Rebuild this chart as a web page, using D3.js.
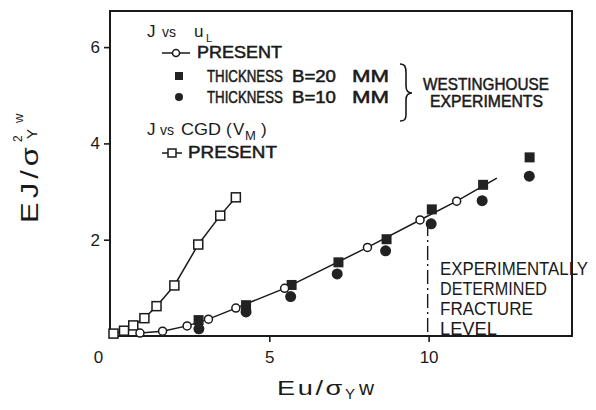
<!DOCTYPE html>
<html>
<head>
<meta charset="utf-8">
<script src="https://cdn.jsdelivr.net/npm/d3@7"></script>
<style>
  body { margin: 0; background: #fff; }
  svg { display: block; }
  text { font-family: "Liberation Sans", Arial, sans-serif; fill: #1a1a1a; }
</style>
</head>
<body>
<div id="chart"></div>
<script>
// J vs CGD (V_M), present (open squares)
const cgdX = [0.11, 0.44, 0.73, 1.08, 1.46, 2.02, 2.77, 3.46, 3.95];
const cgdY = [0.05, 0.11, 0.22, 0.37, 0.62, 1.05, 1.90, 2.50, 2.88];

// J vs u_L, present (open circles on a line)
const presentX = [0.94, 1.65, 2.42, 3.09, 3.95, 5.48, 8.08, 9.73, 10.88];
const presentY = [0.06, 0.10, 0.21, 0.35, 0.58, 0.99, 1.84, 2.41, 2.80];
const presentLineEnd = [12.14, 3.28];

// Westinghouse experiments
const b20X = [2.78, 4.27, 5.70, 7.17, 8.68, 10.10, 11.71, 13.17];
const b20Y = [0.33, 0.64, 1.06, 1.53, 2.01, 2.63, 3.14, 3.71];
const b10X = [2.79, 4.27, 5.67, 7.13, 8.65, 10.08, 11.68, 13.16];
const b10Y = [0.15, 0.50, 0.82, 1.29, 1.77, 2.33, 2.81, 3.32];

// experimentally determined fracture level
const fractureX = 9.97;
const fractureTop = 2.37;

const xTicks = [0, 5, 10];
const yTicks = [2, 4, 6];
const xMax = 14.5, yMax = 6.75;

const ink = "#1a1a1a";

const svg = d3.select("#chart").append("svg")
  .attr("width", 596)
  .attr("height", 410);

const x = d3.scaleLinear().domain([0, xMax]).range([110, 572]);
const y = d3.scaleLinear().domain([0, yMax]).range([336, 11]);

// squeeze/stretch a text horizontally so it spans w pixels, glyph heights unchanged
function fit(t, w) {
  const x0 = +t.attr("x"), y0 = +t.attr("y");
  const k = w / t.node().getComputedTextLength();
  t.attr("x", 0).attr("y", 0)
    .attr("transform", `translate(${x0},${y0}) scale(${k},1)`);
  return t;
}

// frame
svg.append("rect")
  .attr("x", x(0)).attr("y", y(yMax))
  .attr("width", x(xMax) - x(0)).attr("height", y(0) - y(yMax))
  .attr("fill", "none").attr("stroke", ink).attr("stroke-width", 2);

const yAxis = svg.append("g")
  .attr("transform", `translate(${x(0)},0)`)
  .call(d3.axisLeft(y).tickValues(yTicks).tickFormat(d3.format("d"))
    .tickSize(6).tickSizeOuter(0).tickPadding(4));
yAxis.select(".domain").remove();

const xAxis = svg.append("g")
  .attr("transform", `translate(0,${y(0)})`)
  .call(d3.axisBottom(x).tickValues(xTicks).tickFormat(d3.format("d"))
    .tickSize(6).tickSizeOuter(0).tickPadding(9));
xAxis.select(".domain").remove();
xAxis.selectAll(".tick").filter(d => d === 0).select("line").remove();
xAxis.selectAll(".tick").filter(d => d === 0).select("text").attr("x", -12);

svg.selectAll(".tick line").attr("stroke", ink).attr("stroke-width", 1.6);
svg.selectAll(".tick text")
  .attr("fill", ink)
  .style("font-size", "17px")
  .style("font-family", "'Liberation Sans', Arial, sans-serif");

// axis titles
const yTitle = svg.append("g").attr("transform", "translate(38,223) rotate(-90)");
fit(yTitle.append("text").attr("x", 0).attr("y", 0)
  .style("font-size", "23px").style("letter-spacing", "3px").text("EJ/σ"), 80);
yTitle.append("text").attr("x", 81).attr("y", -16).style("font-size", "12px").text("2");
yTitle.append("text").attr("x", 84).attr("y", -1).style("font-size", "15px").text("Y");
yTitle.append("text").attr("x", 100).attr("y", -15).style("font-size", "13px").text("w");

const xTitle = svg.append("g");
fit(xTitle.append("text").attr("x", 277).attr("y", 395)
  .style("font-size", "21px").style("letter-spacing", "2px").text("Eu/σ"), 68);
xTitle.append("text").attr("x", 345).attr("y", 399).style("font-size", "15px").text("Y");
fit(xTitle.append("text").attr("x", 359).attr("y", 395)
  .style("font-size", "20px").text("w"), 15);

// fracture level line
svg.append("line")
  .attr("x1", x(fractureX)).attr("x2", x(fractureX))
  .attr("y1", y(fractureTop)).attr("y2", y(0))
  .attr("stroke", ink).attr("stroke-width", 1.4)
  .attr("stroke-dasharray", "14,4,2,4");

const noteLines = ["EXPERIMENTALLY", "DETERMINED", "FRACTURE", "LEVEL"];
const noteWidths = [148, 107, 93, 57];
noteLines.forEach((s, i) => {
  fit(svg.append("text").attr("x", 440).attr("y", 275 + i * 20)
    .style("font-size", "19px").text(s), noteWidths[i]);
});

// lines
const line = d3.line().x(d => x(d[0])).y(d => y(d[1]));

svg.append("path")
  .datum(cgdX.map((v, i) => [v, cgdY[i]]))
  .attr("d", line)
  .attr("fill", "none").attr("stroke", ink).attr("stroke-width", 1.5);

svg.append("path")
  .datum(presentX.map((v, i) => [v, presentY[i]]).concat([presentLineEnd]))
  .attr("d", line)
  .attr("fill", "none").attr("stroke", ink).attr("stroke-width", 1.5);

// markers
svg.append("g").selectAll("rect")
  .data(b20X.map((v, i) => [v, b20Y[i]]))
  .join("rect")
  .attr("x", d => x(d[0]) - 5).attr("y", d => y(d[1]) - 5)
  .attr("width", 10).attr("height", 10)
  .attr("fill", "#222");

svg.append("g").selectAll("circle")
  .data(b10X.map((v, i) => [v, b10Y[i]]))
  .join("circle")
  .attr("cx", d => x(d[0])).attr("cy", d => y(d[1]))
  .attr("r", 5.5)
  .attr("fill", "#222");

svg.append("g").selectAll("rect")
  .data(cgdX.map((v, i) => [v, cgdY[i]]))
  .join("rect")
  .attr("x", d => x(d[0]) - 4.5).attr("y", d => y(d[1]) - 4.5)
  .attr("width", 9).attr("height", 9)
  .attr("fill", "#fff").attr("stroke", ink).attr("stroke-width", 1.5);

svg.append("g").selectAll("circle")
  .data(presentX.map((v, i) => [v, presentY[i]]))
  .join("circle")
  .attr("cx", d => x(d[0])).attr("cy", d => y(d[1]))
  .attr("r", 4)
  .attr("fill", "#fff").attr("stroke", ink).attr("stroke-width", 1.5);

// legend
const legend = svg.append("g");

function lText(xPos, yPos, str, size, len) {
  const t = legend.append("text").attr("x", xPos).attr("y", yPos)
    .style("font-size", size + "px").text(str);
  if (len) fit(t, len);
  return t;
}
function heavy(t) {
  return t.attr("stroke", ink).attr("stroke-width", 0.5);
}

// J vs u_L
lText(147, 37, "J", 17);
lText(162, 37, "vs", 15, 14);
lText(194, 37, "u", 17);
lText(206, 42, "L", 11);

// J vs CGD (V_M)
lText(147, 135, "J", 17);
lText(160, 135, "vs", 15, 14);
lText(181, 135, "CGD", 17, 40);
lText(226, 135, "(", 17);
lText(233, 135, "V", 17);
lText(245, 140, "M", 13);
lText(261, 135, ")", 17);

// -o- present
legend.append("line").attr("x1", 162).attr("x2", 190).attr("y1", 53).attr("y2", 53)
  .attr("stroke", ink).attr("stroke-width", 1.5);
legend.append("circle").attr("cx", 176).attr("cy", 53).attr("r", 3.5)
  .attr("fill", "#fff").attr("stroke", ink).attr("stroke-width", 1.5);
heavy(lText(197, 58, "PRESENT", 16, 85));

legend.append("rect").attr("x", 175).attr("y", 72).attr("width", 8).attr("height", 8).attr("fill", "#222");
legend.append("circle").attr("cx", 179).attr("cy", 97).attr("r", 4).attr("fill", "#222");

[["B=20", 82], ["B=10", 103]].forEach(r => {
  heavy(lText(207, r[1], "THICKNESS", 16, 76));
  heavy(lText(292, r[1], r[0], 16, 44));
  heavy(lText(352, r[1], "MM", 16, 37));
});

legend.append("path")
  .attr("d", "M400,64 C405,64 406,67 406,73 L406,86 C406,91 408,93 412,93 C408,93 406,95 406,100 L406,114 C406,119 405,121 400,121")
  .attr("fill", "none").attr("stroke", ink).attr("stroke-width", 1.6);

heavy(lText(423, 90, "WESTINGHOUSE", 16, 126));
heavy(lText(430, 107, "EXPERIMENTS", 16, 113));

// -□- present
legend.append("line").attr("x1", 162).attr("x2", 182).attr("y1", 153).attr("y2", 153)
  .attr("stroke", ink).attr("stroke-width", 1.5);
legend.append("rect").attr("x", 168).attr("y", 149).attr("width", 8).attr("height", 8)
  .attr("fill", "#fff").attr("stroke", ink).attr("stroke-width", 1.5);
heavy(lText(188, 158, "PRESENT", 16, 89));
</script>
</body>
</html>
